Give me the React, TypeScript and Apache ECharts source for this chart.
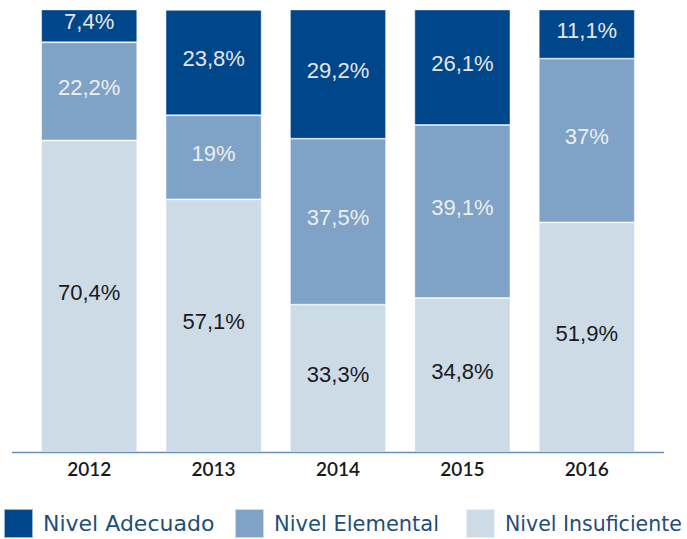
import React, { useEffect, useRef } from "react";
import * as echarts from "echarts";

const years = ["2012", "2013", "2014", "2015", "2016"];
const adecuado = [7.4, 23.8, 29.2, 26.1, 11.1];
const elemental = [22.2, 19, 37.5, 39.1, 37];
const insuficiente = [70.4, 57.1, 33.3, 34.8, 51.9];

const seriesNames = ["Nivel Adecuado", "Nivel Elemental", "Nivel Insuficiente"];
const colors = ["#00468b", "#7fa3c7", "#cddbe7"];

const fmt = (v: number) => String(v).replace(".", ",") + "%";

export default function App() {
  const ref = useRef<HTMLDivElement>(null);
  useEffect(() => {
    if (!ref.current) return;
    const chart = echarts.init(ref.current, null, { renderer: "svg" });
    const mk = (name: string, data: number[], color: string, labelColor: string) => ({
      name,
      type: "bar",
      stack: "total",
      data,
      barWidth: 96,
      itemStyle: { color, borderColor: "rgba(255,255,255,0.6)", borderWidth: 0.8 },
      label: {
        show: true,
        position: "inside",
        offset: [0, -4],
        formatter: (p: any) => fmt(p.value),
        color: labelColor,
        fontFamily: "'Liberation Sans', Arial, sans-serif",
        fontSize: 22,
      },
    });
    const legendLefts = [3, 234, 465];
    const legendSizes = [22, 21, 20.5];
    const legends = seriesNames.map((n, i) => ({
      left: legendLefts[i],
      top: 508,
      width: 300,
      padding: 0,
      itemWidth: 29,
      itemHeight: 29,
      icon: "rect",
      data: [n],
      textStyle: {
        color: "#1f4e79",
        fontFamily: "'DejaVu Sans', sans-serif",
        fontSize: legendSizes[i],
        padding: [0, 0, 0, 5],
      },
    }));
    chart.setOption({
      animation: false,
      grid: { left: 27, right: 38, top: 9.5, bottom: 87 },
      xAxis: {
        type: "category",
        data: years,
        axisLine: { show: false },
        axisTick: { show: false },
        axisLabel: {
          color: "#1a1a1a",
          fontFamily: "Lato, sans-serif",
          fontWeight: 600,
          fontSize: 19,
          margin: 7,
        },
      },
      yAxis: {
        type: "value",
        min: 0,
        max: 100,
        show: false,
        splitLine: { show: false },
      },
      legend: legends,
      graphic: [
        {
          type: "line",
          shape: { x1: 12, y1: 452.5, x2: 664, y2: 452.5 },
          style: { stroke: "#6a8fbd", lineWidth: 1.5 },
          z: 10,
        },
      ],
      series: [
        mk(seriesNames[2], insuficiente, colors[2], "#1a1a1a"),
        mk(seriesNames[1], elemental, colors[1], "#eeeeee"),
        mk(seriesNames[0], adecuado, colors[0], "#e6e6e6"),
      ],
    });
    return () => chart.dispose();
  }, []);
  return <div ref={ref} style={{ width: 687, height: 539, position: "absolute", left: 0, top: 0 }} />;
}
